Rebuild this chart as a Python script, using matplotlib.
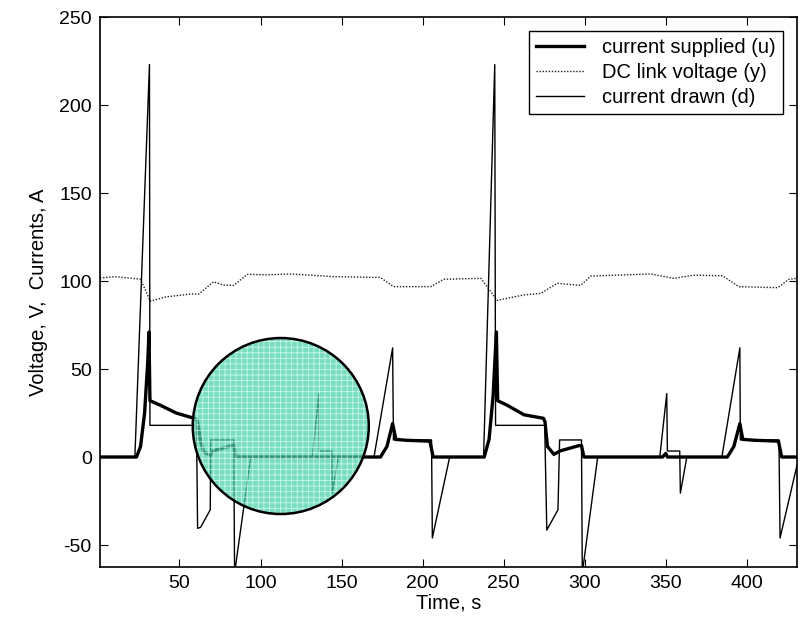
import matplotlib.pyplot as plt
from matplotlib.patches import Ellipse

plt.rcParams['font.family'] = ['Liberation Sans', 'DejaVu Sans']
plt.rcParams['hatch.linewidth'] = 0.6
plt.rcParams['hatch.color'] = '#e8fff8'
plt.rcParams['axes.unicode_minus'] = False

# current supplied (u)
t_u = [1, 23.5, 26, 28.5, 30.5, 31.2, 31.8, 38, 48, 59, 61, 63, 65, 69, 71,
       82.5, 83.5, 85, 174, 178, 181.5, 183.5, 190, 204.5, 206.5, 238, 241,
       243.5, 245.5, 246.3, 252, 262.5, 274.5, 275.5, 277, 281, 285, 296.5,
       298, 299.5, 348, 350, 351, 388, 392, 395.7, 397.5, 405, 419.5, 421.5, 431]
u = [0, 0, 6, 25, 55, 71, 32, 29.5, 25, 22, 21, 9, 2.8, 1, 3.6,
     6.5, 6.5, 0, 0, 6, 19, 10, 9.5, 9, 0, 0, 10,
     35, 71, 32, 29.5, 24, 22, 20, 6, 1.5, 3.5, 6.5,
     6.5, 0, 0, 2, 0, 0, 6, 19, 10, 9.5, 9, 0, 0]

# current drawn (d)
t_d = [1, 22.5, 31.5, 31.8, 60.5, 61.2, 63, 69, 69.3, 83.5, 84, 94, 132, 136,
       136.3, 144, 144.3, 148, 170, 181.5, 182, 205.5, 206, 216.7, 237.6,
       244.5, 245, 275.3, 276.6, 283.5, 284.5, 298, 298.5, 308, 346.3, 350.6,
       351, 358.6, 359, 363, 384.6, 395.7, 396, 419.8, 420.5, 431]
d = [0, 0, 223, 18, 18, -40.5, -40, -30, 9.7, 9.7, -66, 0, 0, 36,
     3.4, 3.4, -20.5, 0, 0, 62, 9.7, 9.7, -46, 0, 0,
     223, 18, 18, -41.5, -30, 9.7, 9.7, -66, 0, 0, 36,
     3.4, 3.4, -20.5, 0, 0, 62, 9.7, 9.7, -46, -4.5]

# DC link voltage (y)
t_y = [1, 10, 21, 26, 32, 42, 57, 62, 71, 77, 83.5, 91.8, 104, 118.5, 145,
       174, 182, 205, 213, 236, 246, 262, 273, 283, 297.5, 303.7, 340.7,
       355, 367, 385, 395, 419, 426, 431]
v = [101.7, 102.5, 101.5, 101, 88.6, 91, 92.6, 92.6, 99.6, 97.7, 97.5, 103.8,
     103.5, 104, 102.5, 102, 96.8, 96.8, 101, 101.5, 89, 92, 93, 98.7, 97.5,
     102.8, 104, 101.5, 103.3, 103, 96.8, 96.2, 101, 101.5]

fig = plt.figure(figsize=(8.04, 6.19), dpi=100)
ax = fig.add_axes([0.1244, 0.084, 0.867, 0.8885])

ax.plot(t_u, u, color='black', lw=2.4, label='current supplied (u)')
ax.plot(t_y, v, color='#222222', lw=1.0, ls=(0, (1, 1.2)), label='DC link voltage (y)')
ax.plot(t_d, d, color='black', lw=1.0, label='current drawn (d)')

# highlighted region
ax.add_patch(Ellipse((112.5, 17.6), 108.6, 100, facecolor='#45d0a8', hatch='+++',
                     edgecolor='#e8fff8', lw=0, alpha=0.72, zorder=3))
ax.add_patch(Ellipse((112.5, 17.6), 108.6, 100, facecolor='none',
                     edgecolor='black', lw=1.8, zorder=4))

ax.set_xlim(1, 431)
ax.set_ylim(-62.5, 250)
ax.set_xticks([50, 100, 150, 200, 250, 300, 350, 400])
ax.set_yticks([-50, 0, 50, 100, 150, 200, 250])
ax.tick_params(direction='in', top=True, right=True, labelsize=14, length=6, pad=6)
for s in ax.spines.values():
    s.set_linewidth(1.2)
ax.set_xlabel('Time, s', fontsize=14.5, labelpad=1)
ax.set_ylabel('Voltage, V,  Currents, A', fontsize=14.5, labelpad=8)

leg = ax.legend(loc='upper right', fontsize=14.5, fancybox=False, framealpha=1,
                edgecolor='black', handlelength=2.4, borderpad=0.35,
                labelspacing=0.3, borderaxespad=0.7, handletextpad=0.9)
leg.get_frame().set_linewidth(1.0)

fig.savefig('out.png', dpi=100)
